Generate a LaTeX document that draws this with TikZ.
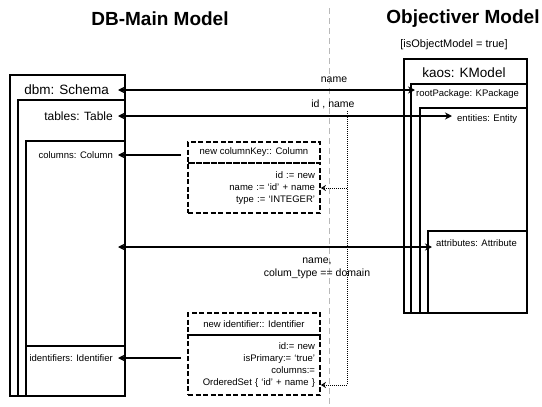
\documentclass[tikz,border=0pt]{standalone}
\usepackage{fontspec}
\setmainfont{Liberation Sans}
\usetikzlibrary{arrows.meta}
\begin{document}
\begin{tikzpicture}[x=1pt,y=-1pt]
        \tikzstyle{title_style} = [font=\fontsize{19}{22}\selectfont\bfseries]
        \tikzstyle{box_style} = [draw=black, line width=1.8pt, anchor=north west, inner sep=0pt]
        \tikzstyle{big_label} = [font=\fontsize{13.5}{16}\selectfont, inner ysep=0pt]
        \tikzstyle{mid_label} = [font=\fontsize{12}{14}\selectfont, inner ysep=0pt]
        \tikzstyle{small_label} = [font=\fontsize{9.5}{12}\selectfont, inner ysep=0pt]
        \tikzstyle{conn_label} = [font=\fontsize{10.5}{13}\selectfont, inner sep=0pt]
        \tikzstyle{dash_style} = [draw=black, line width=1.8pt, dash pattern=on 5pt off 2.5pt, minimum width=132pt, inner sep=0pt, font=\fontsize{9.5}{12.3}\selectfont]
        \tikzstyle{edge_style} = [draw=black, line width=1.8pt, >={Stealth[length=7pt,width=7pt]}]
        \tikzstyle{dot_style} = [draw=black, line width=1pt, densely dotted, >={Stealth[open,length=5pt,width=6pt]}]
        \tikzstyle{sep_style} = [draw=gray!55, line width=1pt, dash pattern=on 6pt off 4pt]
        \useasboundingbox (0,0) rectangle (542,407);
        \draw[sep_style] (329,8) -- (329,407);
        \node[title_style] (dbmain_title) at (160,19) {DB-Main Model};
        \node[title_style] (objectiver_title) at (463,19) {Objectiver Model};
        \node[conn_label, font=\fontsize{11}{13}\selectfont] (ismodel_lbl) at (454,45) {[isObjectModel = true]};
        \node[box_style, minimum width=115pt, minimum height=321pt] (schema) at (9,74) {};
        \node[box_style, minimum width=107pt, minimum height=296pt] (tables) at (17,99) {};
        \node[box_style, minimum width=99pt, minimum height=255pt] (columns) at (25,140) {};
        \node[box_style, minimum width=99pt, minimum height=50pt] (identifiers) at (25,345) {};
        \node[box_style, minimum width=123pt, minimum height=254pt] (kmodel) at (403,58) {};
        \node[box_style, minimum width=116pt, minimum height=229pt] (rootpkg) at (410,83) {};
        \node[box_style, minimum width=107pt, minimum height=205pt] (entities) at (419,107) {};
        \node[box_style, minimum width=99pt, minimum height=82pt] (attributes) at (427,230) {};
        \node[big_label, inner xsep=9pt, anchor=east] (schema_lbl) at (118,90) {dbm: Schema};
        \node[mid_label, inner xsep=5pt, anchor=east] (tables_lbl) at (118,116) {tables: Table};
        \node[small_label, inner xsep=5pt, anchor=east] (columns_lbl) at (118,155) {columns: Column};
        \node[small_label, inner xsep=5pt, anchor=east] (identifiers_lbl) at (118,358) {identifiers: Identifier};
        \node[big_label] (kmodel_lbl) at (464,73) {kaos: KModel};
        \node[small_label, inner xsep=1pt, anchor=west] (rootpkg_lbl) at (415,94) {rootPackage: KPackage};
        \node[small_label, inner xsep=5pt, anchor=west] (entities_lbl) at (452,119) {entities: Entity};
        \node[small_label, inner xsep=4pt, anchor=west] (attributes_lbl) at (432,243) {attributes: Attribute};
        \node[dash_style, minimum height=21pt] (key_title) at (254,152.5) {new columnKey:: Column};
        \node[dash_style, minimum height=50pt, text width=122pt, align=right] (key_body) at (254,188) {id := new\\name := ‘id’ + name\\type := ‘INTEGER’};
        \node[dash_style, minimum height=22pt] (id_title) at (254,324) {new identifier:: Identifier};
        \node[dash_style, minimum height=60pt, text width=122pt, align=right] (id_body) at (254,365) {id:= new\\isPrimary:= ‘true’\\columns:=\\OrderedSet \{ ‘id’ + name \}};
        \node[conn_label] (name_lbl) at (334,80) {name};
        \node[conn_label] (idname_lbl) at (333,104) {id , name};
        \node[conn_label, align=center] (domain_lbl) at (317,268) {name,\\colum\_type == domain};
        \coordinate (name_split) at (347,111);
        \draw[edge_style, <->] (schema_lbl.east) -- (schema_lbl.east -| rootpkg_lbl.west);
        \draw[edge_style, <->] (tables_lbl.east) -- (tables_lbl.east -| entities_lbl.west);
        \draw[edge_style, <->] ([yshift=-4pt]attributes_lbl.west) -- ([yshift=-4pt]attributes_lbl.west -| columns_lbl.east);
        \draw[edge_style, ->, shorten <=6pt] ([yshift=-2.5pt]key_title.west) -- ([yshift=-2.5pt]key_title.west -| columns_lbl.east);
        \draw[edge_style, ->, shorten <=6pt] ([yshift=7pt]id_body.west) -- ([yshift=7pt]id_body.west -| identifiers_lbl.east);
        \draw[dot_style, ->] (name_split) |- ([yshift=-20pt]id_body.east);
        \draw[dot_style, ->] (name_split |- key_body.east) -- (key_body.east);
      \end{tikzpicture}
\end{document}
